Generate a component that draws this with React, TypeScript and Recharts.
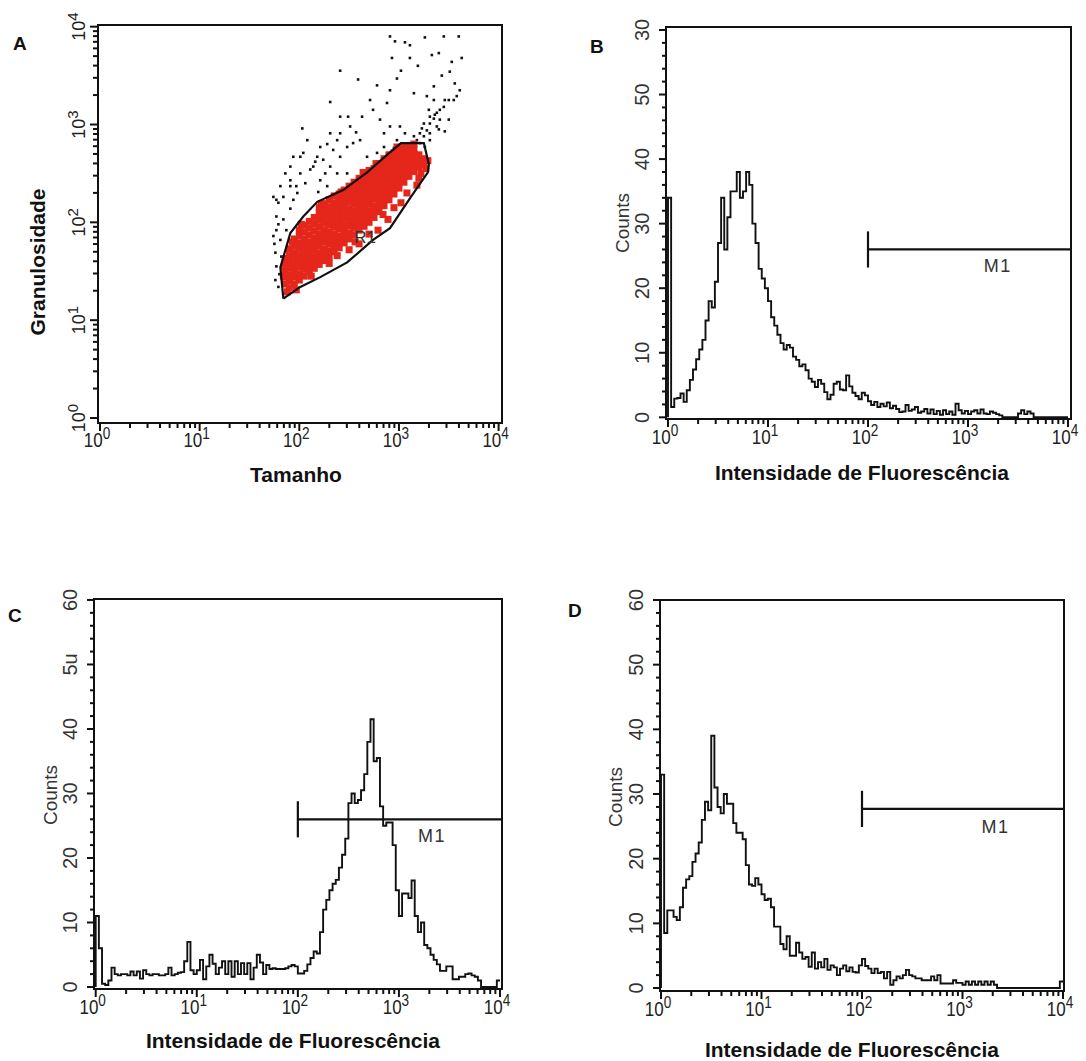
import React from "react";
import {
  ScatterChart,
  Scatter,
  LineChart,
  Line,
  XAxis,
  YAxis,
  ReferenceArea,
  ReferenceLine,
  ReferenceDot,
} from "recharts";

const FONT = "'Liberation Sans', Arial, Helvetica, sans-serif";
const INK = "#111";
const RED = "#e5261b";

// log axes: 10^0 .. 10^4
const DECADES = [0, 1, 2, 3, 4];
const DECADE_LABELS = ["0", "1", "2", "3", "4"];
const MINOR_STEPS = [2, 3, 4, 5, 6, 7, 8, 9];
const CHANNELS_PER_DECADE = 64; // 256 channels over 4 decades
const BIN_WIDTH = 2; // channels per histogram bin

const COUNT_TICKS = [0, 2, 4, 6, 8, 10, 12, 14, 16, 18, 20, 22, 24, 26, 28, 30, 32, 34, 36, 38, 40, 42, 44, 46, 48, 50, 52, 54, 56, 58, 60];
const COUNT_MAJORS = [0, 10, 20, 30, 40, 50, 60];
const B_COUNT_LABELS = ["0", "10", "20", "30", "40", "50", "30"];
const C_COUNT_LABELS = ["0", "10", "20", "30", "40", "5u", "60"];
const D_COUNT_LABELS = ["0", "10", "20", "30", "40", "50", "60"];

// Panel A: Tamanho x Granulosidade (log10 units)
const GATE_R1: [number, number][] = [
  [1.84, 1.22], [1.81, 1.54], [1.91, 1.89], [2.04, 2.06], [2.18, 2.21], [2.44, 2.33],
  [2.68, 2.51], [2.88, 2.69], [3.02, 2.81], [3.25, 2.81], [3.30, 2.59], [3.29, 2.51],
  [3.12, 2.26], [2.91, 1.94], [2.74, 1.82], [2.48, 1.59], [2.21, 1.44], [2.01, 1.34],
  [1.84, 1.22],
];

const RED_COLUMNS: [number, number[]][] = [
  [1.86, [1.37, 1.44, 1.51, 1.57, 1.63]],
  [1.9, [1.33, 1.4, 1.46, 1.53, 1.6, 1.66, 1.73]],
  [1.95, [1.37, 1.44, 1.5, 1.56, 1.63, 1.69, 1.76, 1.83]],
  [2.0, [1.41, 1.47, 1.54, 1.6, 1.66, 1.73, 1.79, 1.86, 1.92]],
  [2.05, [1.45, 1.52, 1.58, 1.64, 1.71, 1.77, 1.83, 1.9, 1.97]],
  [2.1, [1.49, 1.55, 1.62, 1.68, 1.74, 1.8, 1.87, 1.94, 2.01]],
  [2.15, [1.53, 1.59, 1.65, 1.72, 1.78, 1.84, 1.91, 1.98, 2.05]],
  [2.2, [1.57, 1.63, 1.69, 1.76, 1.82, 1.88, 1.95, 2.02, 2.09, 2.15]],
  [2.25, [1.61, 1.67, 1.73, 1.8, 1.86, 1.92, 1.99, 2.06, 2.13, 2.19]],
  [2.3, [1.65, 1.71, 1.78, 1.84, 1.9, 1.97, 2.03, 2.1, 2.16, 2.23]],
  [2.35, [1.7, 1.76, 1.82, 1.88, 1.95, 2.01, 2.07, 2.14, 2.2, 2.27]],
  [2.4, [1.74, 1.8, 1.86, 1.93, 1.99, 2.05, 2.12, 2.18, 2.24, 2.29]],
  [2.45, [1.79, 1.85, 1.91, 1.97, 2.04, 2.1, 2.16, 2.22, 2.28, 2.33]],
  [2.5, [1.83, 1.89, 1.96, 2.02, 2.08, 2.14, 2.21, 2.27, 2.33, 2.37]],
  [2.55, [1.87, 1.94, 2.0, 2.06, 2.12, 2.19, 2.25, 2.31, 2.37, 2.41]],
  [2.6, [1.92, 1.98, 2.04, 2.11, 2.17, 2.23, 2.29, 2.35, 2.41, 2.45]],
  [2.65, [1.96, 2.02, 2.08, 2.15, 2.21, 2.27, 2.33, 2.39, 2.45, 2.49]],
  [2.7, [2.0, 2.06, 2.12, 2.19, 2.25, 2.31, 2.37, 2.43, 2.49, 2.53]],
  [2.75, [2.05, 2.11, 2.17, 2.24, 2.3, 2.36, 2.42, 2.48, 2.55]],
  [2.8, [2.11, 2.17, 2.23, 2.29, 2.35, 2.41, 2.47, 2.54, 2.6]],
  [2.85, [2.17, 2.23, 2.29, 2.35, 2.41, 2.47, 2.53, 2.59, 2.65]],
  [2.9, [2.23, 2.29, 2.35, 2.41, 2.47, 2.53, 2.59, 2.65, 2.69]],
  [2.95, [2.29, 2.35, 2.41, 2.47, 2.53, 2.59, 2.65, 2.71]],
  [3.0, [2.35, 2.41, 2.47, 2.53, 2.59, 2.65, 2.71, 2.75]],
  [3.05, [2.41, 2.47, 2.53, 2.59, 2.65, 2.71, 2.77]],
  [3.1, [2.47, 2.53, 2.59, 2.65, 2.71, 2.77]],
  [3.15, [2.52, 2.58, 2.64, 2.7, 2.75]],
  [3.2, [2.57, 2.63, 2.69]],
  [3.25, [2.59, 2.65]],
];

// scattered red events around the dense core
const RED_STRAYS: [number, number][] = [
  [2.6, 1.78], [2.79, 1.92], [2.89, 2.03], [2.95, 2.15], [3.08, 2.3], [3.2, 2.45],
  [3.27, 2.55], [3.29, 2.63], [3.15, 2.8], [2.7, 1.88], [2.5, 1.72], [2.3, 1.58],
  [1.88, 1.29], [1.84, 1.45], [1.85, 1.55], [2.12, 1.45], [2.38, 1.66], [2.56, 1.8],
  [2.84, 2.08], [3.02, 2.2], [3.22, 2.5], [2.02, 1.98], [2.22, 2.19], [2.42, 2.31],
  [2.64, 2.51], [1.93, 1.8], [1.97, 1.31], [2.77, 2.6], [2.98, 2.77], [3.18, 2.38],
];

const BLACK_EVENTS: [number, number][] = [
  [2.91, 3.9], [2.96, 3.85], [3.06, 3.84], [3.11, 3.81], [3.26, 3.89], [3.45, 3.9], [3.6, 3.9],
  [3.33, 3.71], [3.4, 3.73], [3.63, 3.68], [2.93, 3.68], [3.11, 3.68], [3.53, 3.64], [2.98, 3.47],
  [2.41, 3.55], [2.59, 3.46], [2.78, 3.4], [2.91, 3.35], [3.15, 3.32], [3.28, 3.29], [3.35, 3.25],
  [3.46, 3.25], [3.58, 3.29], [3.51, 3.54], [3.56, 3.42], [3.61, 3.35], [3.35, 3.39], [3.38, 3.12],
  [3.45, 3.18], [3.35, 3.06], [3.31, 3.01], [3.38, 2.98], [3.28, 2.94], [3.21, 2.91], [3.25, 2.88],
  [3.18, 2.84], [3.15, 2.88], [3.5, 3.05], [3.41, 3.05], [3.46, 2.93], [3.31, 2.91], [3.36, 3.1],
  [3.06, 2.91], [3.01, 2.98], [2.91, 2.98], [2.81, 3.05], [2.74, 3.15], [2.71, 3.25], [2.88, 3.22],
  [2.63, 3.08], [2.51, 2.98], [2.61, 2.84], [2.41, 2.91], [2.31, 3.23], [2.41, 3.08], [2.49, 3.08],
  [2.31, 2.91], [2.38, 2.84], [2.48, 2.77], [2.34, 2.74], [2.21, 2.77], [2.18, 2.67], [2.24, 2.64],
  [2.14, 2.57], [2.31, 2.57], [2.41, 2.67], [2.08, 2.84], [2.03, 2.96], [2.04, 2.71], [2.11, 2.54],
  [1.97, 2.37], [2.01, 2.5], [1.91, 2.43], [1.81, 2.37], [1.77, 2.23], [1.84, 2.26], [1.94, 2.23],
  [1.91, 2.14], [1.77, 2.06], [1.84, 2.03], [1.77, 1.92], [1.74, 1.86], [1.81, 1.82], [1.76, 1.69],
  [1.82, 1.65], [1.77, 1.55], [1.76, 1.41], [1.79, 1.34], [1.86, 2.5], [2.06, 2.4], [2.21, 2.43],
  [2.26, 2.5], [2.38, 2.5], [2.54, 2.81], [2.68, 2.67], [2.78, 2.71], [2.85, 2.77], [2.95, 2.76],
  [2.48, 2.5], [1.94, 2.67], [1.91, 2.57], [2.01, 2.67], [1.74, 2.26], [1.79, 2.2], [1.87, 1.92],
  [1.91, 2.37], [2.19, 2.31], [2.28, 2.37], [2.85, 2.91], [2.98, 2.84], [3.25, 3.01], [3.31, 3.08],
  [3.41, 3.15], [3.5, 3.25], [3.55, 3.25], [3.11, 2.77], [3.21, 2.81], [3.26, 2.77], [3.31, 2.84],
  [1.79, 1.98], [1.75, 1.78], [1.8, 1.47], [1.98, 2.3], [2.16, 2.62], [2.28, 2.8], [2.57, 2.92],
  [3.02, 3.55], [3.19, 3.6], [3.43, 3.5], [3.3, 3.15], [3.4, 2.95], [3.23, 2.96],
];

// Panels B, C, D: counts per 2-channel bin (128 bins, channel 0..256)
const B_COUNTS = [
  34, 1.6, 2.9, 3, 3.7, 2.4, 4.2, 5.8, 7.4, 9, 10.5, 12, 15, 18, 17, 21,
  27, 34, 26, 31, 35, 35, 38, 34, 35, 38, 36, 30, 27, 23, 21.5, 20,
  18, 15.5, 14.2, 12.8, 11.5, 10.5, 11.2, 10.8, 9.4, 8.9, 7.9, 8.2, 7.3, 6, 5.5, 4.7,
  5.8, 5.2, 3.9, 2.8, 3.5, 5.2, 5.5, 4.3, 4.2, 6.5, 4.8, 3.8, 3.3, 2.8, 3.8, 3.4,
  2.5, 1.9, 2.4, 1.6, 2.1, 1.7, 2.3, 1.4, 1.8, 1.3, 0.8, 0.9, 1.9, 1.0, 1.2, 1.6,
  0.7, 0.9, 1.3, 0.6, 1.2, 0.5, 1.0, 0.4, 1.1, 0.5, 0.9, 0.4, 2.1, 1.1, 0.6, 1.0,
  0.5, 0.9, 1.1, 0.6, 1.2, 0.6, 0.5, 0.9, 0.7, 0.5, 0.3, 0, 0, 0, 0, 0,
  0.6, 1.1, 0.5, 0.9, 0.6, 0, 0, 0, 0, 0, 0, 0, 0, 0, 0, 0,
];

const C_COUNTS = [
  11, 6, 0.5, 0.3, 1, 3, 2, 1.8, 2, 2, 1.8, 2.4, 1.8, 2.4, 1.3, 2.6,
  2, 1.8, 2, 2, 1.8, 1.8, 2, 3, 1.8, 2, 2.2, 2.3, 4, 7, 2.6, 2,
  2.6, 4.2, 1.2, 3.2, 5, 3.6, 2, 3, 4, 2, 4, 1.6, 4, 2, 3.7, 2,
  3.7, 1.2, 3, 5, 3.8, 2, 3.4, 2.8, 2.9, 2.8, 2.8, 2.8, 2.9, 3.2, 3.4, 3.2,
  2.1, 2.1, 2.5, 3.5, 4.5, 5.5, 5.2, 8.5, 12, 13.5, 15, 16, 16.6, 18.5, 20.5, 23,
  28.5, 30, 28.5, 29, 30.5, 33, 38, 41.5, 35, 35.5, 28, 25, 25.5, 25.5, 22, 15,
  11, 14.5, 14.5, 13.8, 16.5, 11, 8.5, 10, 6.5, 6, 5, 4.2, 3.5, 2.5, 2.5, 3.2,
  3.2, 1.2, 1.2, 1.6, 1.6, 2, 2.1, 1.8, 1.6, 1, 0, 0, 0, 0, 0, 1,
];

const D_COUNTS = [
  33, 8.5, 12, 12, 11, 10.5, 12.5, 15.5, 16.8, 17.3, 19.5, 20.8, 22.5, 26, 28.8, 27.5,
  39, 31, 28, 27, 30, 28.5, 28.5, 25.5, 24, 24, 23, 19, 16, 15.8, 17, 16,
  14.5, 13.6, 13.8, 12.5, 9.5, 9.5, 6.8, 6, 8, 5, 5, 7, 5.5, 4.5, 4.8, 3.3,
  5.5, 3, 4, 3.2, 4.5, 2.8, 3.5, 3.2, 2, 3, 3.5, 2.6, 3.2, 2.5, 2.4, 3.5,
  4.5, 3.4, 3, 2.3, 3, 2.3, 2.5, 1.5, 2.5, 0.5, 1.2, 1.8, 1.5, 2, 2.8, 2,
  1.8, 1.5, 1.5, 1.2, 1.2, 1.2, 1.8, 1.2, 2, 0.7, 0.7, 0.7, 0.7, 1.2, 0.8, 0.8,
  0.5, 1, 0.5, 1, 0.5, 1, 0.5, 1, 0.5, 1, 0.5, 0, 0, 0, 0, 0,
  0, 0, 0, 0, 0, 0, 0, 0, 0, 0, 0, 0, 0, 0, 0, 1,
];

const M1_START = 128; // channel of 10^2

const logTicks = (unit: number) => {
  const out: number[] = [];
  DECADES.forEach((d) => {
    out.push(d * unit);
    if (d < 4) MINOR_STEPS.forEach((k) => out.push((d + Math.log10(k)) * unit));
  });
  return out.sort((a, b) => a - b);
};

const toSteps = (counts: number[]) => [
  { ch: 0, c: 0 },
  ...counts.map((c, i) => ({ ch: i * BIN_WIDTH, c })),
  { ch: counts.length * BIN_WIDTH, c: counts[counts.length - 1] },
];

// bottom log axis: decades get "10^n" labels
const logXTick = (unit: number, labelDy: number) => (p: any) => {
  const i = DECADES.indexOf(p.payload.value / unit);
  const major = i >= 0;
  return (
    <g>
      <line x1={p.x} x2={p.x} y1={p.y} y2={p.y + (major ? 8 : 5)} stroke={INK} strokeWidth={2} />
      {major && (
        <text
          transform={`translate(${p.x - 3},${p.y + labelDy}) scale(0.85,1)`}
          textAnchor="middle"
          fontFamily={FONT}
          fontSize={20}
          fill="#222"
        >
          10
          <tspan dy={-8} fontSize={16}>
            {DECADE_LABELS[i]}
          </tspan>
        </text>
      )}
    </g>
  );
};

const logYTick = (p: any) => {
  const i = DECADES.indexOf(p.payload.value);
  const major = i >= 0;
  return (
    <g>
      <line x1={p.x} x2={p.x - (major ? 8 : 5)} y1={p.y} y2={p.y} stroke={INK} strokeWidth={2} />
      {major && (
        <text
          transform={`translate(${p.x - 13},${p.y}) rotate(-90)`}
          textAnchor="middle"
          fontFamily={FONT}
          fontSize={18}
          fill="#222"
        >
          10
          <tspan dy={-7} fontSize={15}>
            {DECADE_LABELS[i]}
          </tspan>
        </text>
      )}
    </g>
  );
};

const countYTick = (labels: string[]) => (p: any) => {
  const i = COUNT_MAJORS.indexOf(p.payload.value);
  const major = i >= 0;
  return (
    <g>
      <line x1={p.x} x2={p.x - (major ? 7 : 4)} y1={p.y} y2={p.y} stroke={INK} strokeWidth={2} />
      {major && (
        <text
          transform={`translate(${p.x - 17},${p.y}) rotate(-90)`}
          textAnchor="middle"
          fontFamily={FONT}
          fontSize={20}
          fill="#333"
        >
          {labels[i]}
        </text>
      )}
    </g>
  );
};

const blackDot = (p: any) => <rect x={p.cx - 1.3} y={p.cy - 1.3} width={2.6} height={2.6} fill={INK} />;
const redDot = (p: any) => <rect x={p.cx - 3.5} y={p.cy - 3.5} width={7} height={7} fill={RED} />;
const noDot = () => <g />;

function ScatterPanel() {
  const xDom: [number, number] = [-0.02, 4.034];
  const yDom: [number, number] = [-0.051, 4.017];
  const black = BLACK_EVENTS.map(([x, y]) => ({ x, y }));
  const red = [
    ...RED_COLUMNS.flatMap(([x, ys]) => ys.map((y) => ({ x, y }))),
    ...RED_STRAYS.map(([x, y]) => ({ x, y })),
  ];
  const gate = GATE_R1.map(([x, y]) => ({ x, y }));
  return (
    <div style={{ position: "absolute", left: 0, top: 0 }}>
      <ScatterChart width={540} height={500} margin={{ top: 25, left: 38, right: 38, bottom: 37 }}>
        <XAxis
          type="number"
          dataKey="x"
          domain={xDom}
          allowDataOverflow
          ticks={logTicks(1)}
          interval={0}
          tickSize={0}
          tickMargin={0}
          tickLine={false}
          axisLine={false}
          tick={logXTick(1, 24)}
          height={40}
        />
        <YAxis
          type="number"
          dataKey="y"
          domain={yDom}
          allowDataOverflow
          ticks={logTicks(1)}
          interval={0}
          tickSize={0}
          tickMargin={0}
          tickLine={false}
          axisLine={false}
          tick={logYTick}
          width={60}
        />
        <ReferenceArea
          x1={xDom[0]}
          x2={xDom[1]}
          y1={yDom[0]}
          y2={yDom[1]}
          fill="none"
          stroke={INK}
          strokeWidth={2}
          ifOverflow="visible"
        />
        <Scatter data={black} shape={blackDot} isAnimationActive={false} />
        <Scatter data={red} shape={redDot} isAnimationActive={false} />
        <Scatter data={gate} shape={noDot} line={{ stroke: INK, strokeWidth: 2.2 }} isAnimationActive={false} />
        <ReferenceDot
          x={2.66}
          y={1.85}
          r={0}
          fill="none"
          stroke="none"
          label={{ value: "R1", position: "center", fontSize: 17, fill: "#333", fontFamily: FONT }}
        />
      </ScatterChart>
    </div>
  );
}

type HistProps = {
  left: number;
  top: number;
  width: number;
  height: number;
  margin: { top: number; left: number; right: number; bottom: number };
  xDom: [number, number];
  yDom: [number, number];
  counts: number[];
  yLabels: string[];
  m1: number;
  m1Label: [number, number];
};

function Histogram({ left, top, width, height, margin, xDom, yDom, counts, yLabels, m1, m1Label }: HistProps) {
  return (
    <div style={{ position: "absolute", left, top }}>
      <LineChart width={width} height={height} data={toSteps(counts)} margin={margin}>
        <XAxis
          type="number"
          dataKey="ch"
          domain={xDom}
          allowDataOverflow
          ticks={logTicks(CHANNELS_PER_DECADE)}
          interval={0}
          tickSize={0}
          tickMargin={0}
          tickLine={false}
          axisLine={false}
          tick={logXTick(CHANNELS_PER_DECADE, 25)}
          height={40}
        />
        <YAxis
          type="number"
          domain={yDom}
          allowDataOverflow
          ticks={COUNT_TICKS}
          interval={0}
          tickSize={0}
          tickMargin={0}
          tickLine={false}
          axisLine={false}
          tick={countYTick(yLabels)}
          width={60}
        />
        <ReferenceArea
          x1={xDom[0]}
          x2={xDom[1]}
          y1={yDom[0]}
          y2={yDom[1]}
          fill="none"
          stroke={INK}
          strokeWidth={2}
          ifOverflow="visible"
        />
        <Line
          type="stepAfter"
          dataKey="c"
          stroke={INK}
          strokeWidth={1.9}
          dot={false}
          isAnimationActive={false}
        />
        <ReferenceLine
          segment={[
            { x: M1_START, y: m1 - 2.8 },
            { x: M1_START, y: m1 + 2.8 },
          ]}
          stroke={INK}
          strokeWidth={2.2}
          ifOverflow="visible"
        />
        <ReferenceLine
          segment={[
            { x: M1_START, y: m1 },
            { x: xDom[1], y: m1 },
          ]}
          stroke={INK}
          strokeWidth={2.2}
          ifOverflow="visible"
        />
        <ReferenceDot
          x={m1Label[0]}
          y={m1Label[1]}
          r={0}
          fill="none"
          stroke="none"
          label={{ value: "M1", position: "center", fontSize: 18, fill: "#333", fontFamily: FONT, letterSpacing: 1.5 }}
        />
      </LineChart>
    </div>
  );
}

export default function App() {
  const title = { fontFamily: FONT, fontWeight: 700, fontSize: 21, fill: INK } as const;
  const letter = { fontFamily: FONT, fontWeight: 700, fontSize: 19, fill: INK } as const;
  const counts = { fontFamily: FONT, fontSize: 19, fill: "#333" } as const;
  return (
    <div style={{ position: "absolute", left: 0, top: 0, width: 1086, height: 1061, background: "#fff" }}>
      <ScatterPanel />
      <Histogram
        left={560}
        top={0}
        width={526}
        height={500}
        margin={{ top: 27, left: 46, right: 15, bottom: 41 }}
        xDom={[-1.28, 257.92]}
        yDom={[-0.26, 60.46]}
        counts={B_COUNTS}
        yLabels={B_COUNT_LABELS}
        m1={26}
        m1Label={[211, 23.5]}
      />
      <Histogram
        left={0}
        top={580}
        width={540}
        height={481}
        margin={{ top: 19, left: 34, right: 38, bottom: 32 }}
        xDom={[-1.08, 257.27]}
        yDom={[-0.31, 60.15]}
        counts={C_COUNTS}
        yLabels={C_COUNT_LABELS}
        m1={26}
        m1Label={[213, 23.4]}
      />
      <Histogram
        left={560}
        top={580}
        width={526}
        height={481}
        margin={{ top: 20, left: 40, right: 22, bottom: 30 }}
        xDom={[-0.64, 256.64]}
        yDom={[-0.46, 60]}
        counts={D_COUNTS}
        yLabels={D_COUNT_LABELS}
        m1={27.7}
        m1Label={[213, 25]}
      />
      <svg
        width={1086}
        height={1061}
        style={{ position: "absolute", left: 0, top: 0, pointerEvents: "none" }}
      >
        <text x={13} y={50} {...letter}>A</text>
        <text x={590} y={53} {...letter}>B</text>
        <text x={8} y={622} {...letter}>C</text>
        <text x={568} y={617} {...letter}>D</text>

        <text x={296} y={482} textAnchor="middle" {...title}>Tamanho</text>
        <text transform="translate(45,262) rotate(-90)" textAnchor="middle" {...title}>Granulosidade</text>
        <text x={862} y={480} textAnchor="middle" {...title}>Intensidade de Fluorescência</text>
        <text x={293} y={1048} textAnchor="middle" {...title}>Intensidade de Fluorescência</text>
        <text x={852} y={1057} textAnchor="middle" {...title}>Intensidade de Fluorescência</text>

        <text transform="translate(629,223) rotate(-90)" textAnchor="middle" {...counts}>Counts</text>
        <text transform="translate(57,795) rotate(-90)" textAnchor="middle" {...counts}>Counts</text>
        <text transform="translate(622,797) rotate(-90)" textAnchor="middle" {...counts}>Counts</text>
      </svg>
    </div>
  );
}
